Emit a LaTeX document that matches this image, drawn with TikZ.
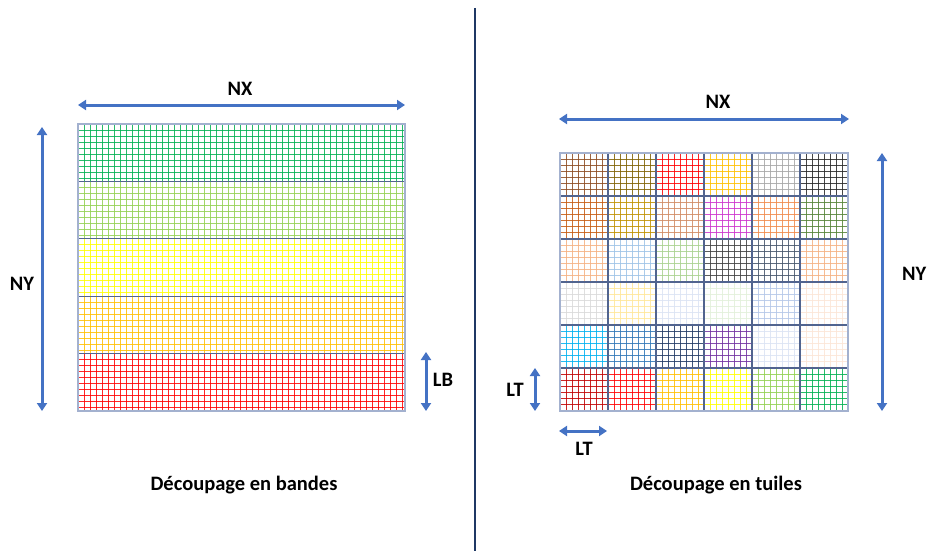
\documentclass[tikz,border=0pt]{standalone}
\usepackage{fontspec}
\setmainfont{Carlito}
\usetikzlibrary{arrows.meta}
\definecolor{arrowblue}{HTML}{4472C4}
\definecolor{divnavy}{HTML}{1F3864}
\definecolor{sepblue}{HTML}{51648F}
\definecolor{outerblue}{HTML}{A3B1CF}
% band colours
\definecolor{bA}{HTML}{00B050}
\definecolor{bB}{HTML}{92D050}
\definecolor{bC}{HTML}{FFFF00}
\definecolor{bD}{HTML}{FFC000}
\definecolor{bE}{HTML}{FF0000}
% tile colours (row, column)
\definecolor{t00}{HTML}{8C4A1E}
\definecolor{t01}{HTML}{7F6000}
\definecolor{t02}{HTML}{FF0000}
\definecolor{t03}{HTML}{FFC000}
\definecolor{t04}{HTML}{A6A6A6}
\definecolor{t05}{HTML}{262626}
\definecolor{t10}{HTML}{C55A11}
\definecolor{t11}{HTML}{BF9000}
\definecolor{t12}{HTML}{D08A62}
\definecolor{t13}{HTML}{CC33CC}
\definecolor{t14}{HTML}{F08A4B}
\definecolor{t15}{HTML}{548235}
\definecolor{t20}{HTML}{F4B183}
\definecolor{t21}{HTML}{9DC3E6}
\definecolor{t22}{HTML}{A9D18E}
\definecolor{t23}{HTML}{404040}
\definecolor{t24}{HTML}{44546A}
\definecolor{t25}{HTML}{F4B183}
\definecolor{t30}{HTML}{D9D9D9}
\definecolor{t31}{HTML}{FFE699}
\definecolor{t32}{HTML}{DAE3F3}
\definecolor{t33}{HTML}{E2F0D9}
\definecolor{t34}{HTML}{B4C7E7}
\definecolor{t35}{HTML}{FBE5D6}
\definecolor{t40}{HTML}{00B0F0}
\definecolor{t41}{HTML}{2E75B6}
\definecolor{t42}{HTML}{203864}
\definecolor{t43}{HTML}{7030A0}
\definecolor{t44}{HTML}{DAE3F3}
\definecolor{t45}{HTML}{FBE5D6}
\definecolor{t50}{HTML}{C00000}
\definecolor{t51}{HTML}{FF0000}
\definecolor{t52}{HTML}{FFC000}
\definecolor{t53}{HTML}{FFFF00}
\definecolor{t54}{HTML}{92D050}
\definecolor{t55}{HTML}{00B050}

\newcommand\bandgrid[3]{% y0, y1, colour
  \foreach \k in {1,...,54} {\draw[gridline,#3] ({78+6*\k},#1) -- ({78+6*\k},#2);}
  \foreach \k in {1,...,9} {\draw[gridline,#3] (78,{#1+6*\k}) -- (405,{#1+6*\k});}
}
\newcommand\tilegrid[3]{% column, row, colour
  \pgfmathsetmacro\tx{560+48*#1}
  \pgfmathsetmacro\ty{153+43*#2}
  \foreach \k in {1,...,7} {\draw[gridline,#3] ({\tx+6*\k},\ty) -- ({\tx+6*\k},{\ty+43});}
  \foreach \k in {1,...,6} {\draw[gridline,#3] (\tx,{\ty+6.14*\k}) -- ({\tx+48},{\ty+6.14*\k});}
}

\begin{document}
\begin{tikzpicture}[x=1pt,y=-1pt,
  gridline/.style={line width=0.9pt, opacity=0.85},
  dimarrow/.style={draw=arrowblue, line width=3pt,
    {Triangle[width=10pt,length=8pt]}-{Triangle[width=10pt,length=8pt]}},
  lbl/.style={font=\fontsize{20.5}{24}\selectfont\bfseries, text=black, inner sep=0pt},
  bandsep/.style={draw=sepblue, line width=1.3pt},
  tilesep/.style={draw=sepblue, line width=1.4pt},
  outerframe/.style={draw=outerblue, line width=1.5pt}]
\useasboundingbox (0,0) rectangle (928,551);

% ---------- divider ----------
\coordinate (div-top) at (475,8);
\coordinate (div-bot) at (475,551);
\draw[divnavy, line width=2.5pt] (div-top) -- (div-bot);

% ---------- left: bands ----------
\coordinate (L-nw) at (78,124);
\coordinate (L-se) at (405,411);
\bandgrid{124}{181.4}{bA}
\bandgrid{181.4}{238.8}{bB}
\bandgrid{238.8}{296.2}{bC}
\bandgrid{296.2}{353.6}{bD}
\bandgrid{353.6}{411}{bE}
\foreach \yy in {181.4,238.8,296.2,353.6} {\draw[bandsep] (78,\yy) -- (405,\yy);}
\draw[outerframe] (L-nw) rectangle (L-se);

\coordinate (lnx-a) at (78,105);
\coordinate (lnx-b) at (405,105);
\draw[dimarrow] (lnx-a) -- (lnx-b);
\node[lbl] (lnx) at (240,89) {NX};

\coordinate (lny-a) at (42,127);
\coordinate (lny-b) at (42,411);
\draw[dimarrow] (lny-a) -- (lny-b);
\node[lbl] (lny) at (22,284) {NY};

\coordinate (lb-a) at (426,352);
\coordinate (lb-b) at (426,411);
\draw[dimarrow] (lb-a) -- (lb-b);
\node[lbl] (lb) at (443,380) {LB};

\node[lbl] (capL) at (244,485) {Découpage en bandes};

% ---------- right: tiles ----------
\coordinate (R-nw) at (560,153);
\coordinate (R-se) at (848,411);
\foreach \r in {0,...,5} {
  \foreach \c in {0,...,5} {
    \tilegrid{\c}{\r}{t\r\c}
  }
}
\foreach \k in {1,...,5} {
  \draw[tilesep] ({560+48*\k},153) -- ({560+48*\k},411);
  \draw[tilesep] (560,{153+43*\k}) -- (848,{153+43*\k});
}
\draw[outerframe] (R-nw) rectangle (R-se);

\coordinate (rnx-a) at (559,119);
\coordinate (rnx-b) at (849,119);
\draw[dimarrow] (rnx-a) -- (rnx-b);
\node[lbl] (rnx) at (718,102) {NX};

\coordinate (rny-a) at (882,153);
\coordinate (rny-b) at (882,411);
\draw[dimarrow] (rny-a) -- (rny-b);
\node[lbl, anchor=east] (rny) at (926.5,274) {NY};

\coordinate (ltv-a) at (535,368);
\coordinate (ltv-b) at (535,411);
\draw[dimarrow] (ltv-a) -- (ltv-b);
\node[lbl] (ltv) at (515,390) {LT};

\coordinate (lth-a) at (559,431);
\coordinate (lth-b) at (607,431);
\draw[dimarrow] (lth-a) -- (lth-b);
\node[lbl] (lth) at (584,449) {LT};

\node[lbl] (capR) at (716,485) {Découpage en tuiles};
\end{tikzpicture}
\end{document}
